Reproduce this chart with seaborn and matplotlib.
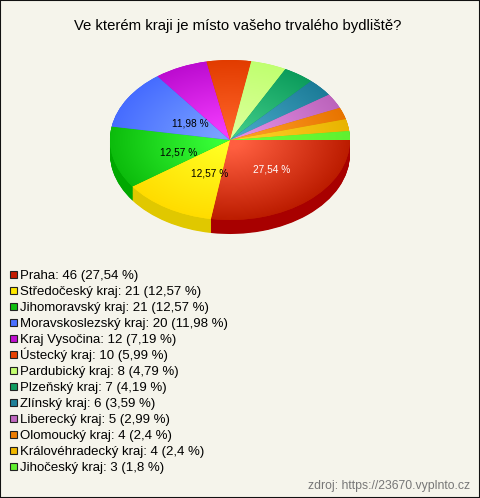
import numpy as np
import matplotlib
matplotlib.use("Agg")
import matplotlib.pyplot as plt
from matplotlib.colors import LinearSegmentedColormap
from matplotlib.patches import Rectangle
import seaborn as sns

regions = ["Praha", "Středočeský kraj", "Jihomoravský kraj", "Moravskoslezský kraj",
           "Kraj Vysočina", "Ústecký kraj", "Pardubický kraj", "Plzeňský kraj",
           "Zlínský kraj", "Liberecký kraj", "Olomoucký kraj", "Královéhradecký kraj",
           "Jihočeský kraj"]
counts = [46, 21, 21, 20, 12, 10, 8, 7, 6, 5, 4, 4, 3]
shares = ["27,54", "12,57", "12,57", "11,98", "7,19", "5,99", "4,79", "4,19",
          "3,59", "2,99", "2,4", "2,4", "1,8"]
title = "Ve kterém kraji je místo vašeho trvalého bydliště?"
source = "zdroj: https://23670.vyplnto.cz"

inner_colors = ["#ff5f40", "#ffff22", "#38ff38", "#7aa2ff", "#f43cff", "#ff6428",
                "#dcff9a", "#40cc88", "#48a8c8", "#e490e4", "#ffa028", "#ffd028", "#70ff38"]
rim_colors = ["#bc1c00", "#ffdc00", "#0cbc0c", "#466cff", "#bc0cd0", "#e23c00",
              "#c0ff70", "#0c9c5c", "#1c7c98", "#bc64bc", "#e87400", "#e8b400", "#60f030"]
side_colors = ["#a80000", "#e0c800", "#00a800", "#3050c0", "#9000a0", "#b03000",
               "#90c050", "#087040", "#105870", "#904890", "#b05800", "#b08800", "#40b020"]
legend_colors = ["#c41a00", "#ffe800", "#10c010", "#4a70ff", "#c010d0", "#e84000",
                 "#c4ff70", "#109c60", "#208098", "#c068c0", "#ee7c00", "#f0b800", "#60f030"]
label_offsets = {0: (0.54, 0.48), 1: (0.33, 0.49), 2: (0.44, 0.72), 3: (0.39, 0.39)}
label_text_colors = {0: "white", 1: "black", 2: "black", 3: "black"}

BG = "#f5f4eb"
sns.set_theme(style="white", rc={"figure.facecolor": BG, "axes.facecolor": "none"})
plt.rcParams["font.family"] = ["Liberation Sans", "DejaVu Sans"]

W, H = 480, 498
fig = plt.figure(figsize=(W / 100, H / 100), dpi=100)

DEPTH = 14 / 80
ax = fig.add_axes([110 / W, 1 - (60 + 160 + 14) / H, 240 / W, (160 + 14) / H])

for d in np.linspace(DEPTH, 0.005, 24):
    ax.pie(counts, colors=side_colors, startangle=0, counterclock=False, radius=1,
           center=(0, -d), wedgeprops={"linewidth": 0, "zorder": 1})

wedges, _ = ax.pie(counts, colors=rim_colors, startangle=0, counterclock=False, radius=1,
                   center=(0, 0), wedgeprops={"linewidth": 0, "zorder": 2})

xx, yy = np.meshgrid(np.linspace(-1, 1, 500), np.linspace(-1, 1, 500))
rr = np.hypot(xx, yy)
for i, w in enumerate(wedges):
    cmap = LinearSegmentedColormap.from_list(f"w{i}", [inner_colors[i], rim_colors[i]])
    im = ax.imshow(rr, extent=(-1, 1, -1, 1), origin="lower", cmap=cmap, vmin=0.1, vmax=1.0,
                   aspect="auto", zorder=3, interpolation="bilinear")
    im.set_clip_path(w)

ax.set_aspect("auto")
ax.set_xlim(-1, 1)
ax.set_ylim(-1 - DEPTH, 1)
ax.axis("off")

total = sum(counts)
cum = 0
for i, c in enumerate(counts):
    mid = np.deg2rad(-(cum + c / 2) / total * 360)
    cum += c
    if i in label_offsets:
        dx, dy = label_offsets[i]
        ax.text(dx * np.cos(mid), dy * np.sin(mid), f"{shares[i]} %",
                ha="center", va="center", fontsize=7.3, color=label_text_colors[i], zorder=5)

fig.text(238 / W, 1 - 26 / H, title, ha="center", va="center", fontsize=10.7, color="black")

labels = [f"{r}: {c} ({s} %)" for r, c, s in zip(regions, counts, shares)]
for i, (lab, col) in enumerate(zip(labels, legend_colors)):
    yc = 274.5 + 16 * i
    fig.add_artist(Rectangle((9.5 / W, 1 - (yc + 3.5) / H), 7 / W, 7 / H, transform=fig.transFigure,
                             facecolor=col, edgecolor="#222222", linewidth=0.8))
    fig.text(20 / W, 1 - (yc + 4.5) / H, lab, ha="left", va="baseline", fontsize=9.5, color="black")

fig.text(470 / W, 1 - 486 / H, source, ha="right", va="center", fontsize=8.8, color="#777777")

fig.add_artist(Rectangle((0, 0), 1, 1, transform=fig.transFigure, fill=False,
                         edgecolor="#111111", linewidth=1.5))

fig.savefig("out.png", dpi=100, facecolor=BG)
